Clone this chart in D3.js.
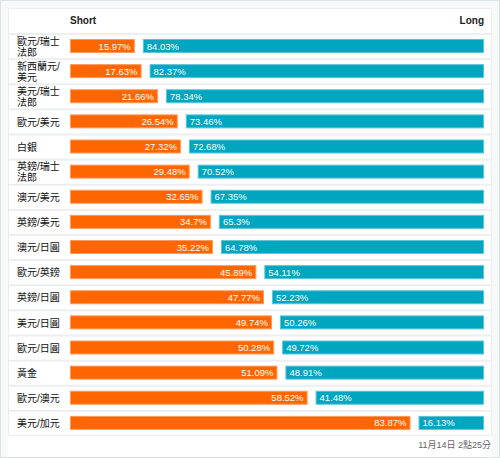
<!DOCTYPE html>
<html><head><meta charset="utf-8">
<script src="https://cdn.jsdelivr.net/npm/d3@7"></script>
<style>
html,body{margin:0;padding:0;background:#fff;}
svg{display:block;font-family:"Liberation Sans","Noto Sans CJK TC",sans-serif;}
</style></head>
<body><svg id="c" width="500" height="458"></svg>
<script>
const categories = ["歐元/瑞士法郎","新西蘭元/美元","美元/瑞士法郎","歐元/美元","白銀","英鎊/瑞士法郎","澳元/美元","英鎊/美元","澳元/日圓","歐元/英鎊","英鎊/日圓","美元/日圓","歐元/日圓","黃金","歐元/澳元","美元/加元"];
const shortValues = [15.97,17.63,21.66,26.54,27.32,29.48,32.65,34.7,35.22,45.89,47.77,49.74,50.28,51.09,58.52,83.87];
const longValues  = [84.03,82.37,78.34,73.46,72.68,70.52,67.35,65.3,64.78,54.11,52.23,50.26,49.72,48.91,41.48,16.13];
const headers = ["Short","Long"];
const timestamp = "11月14日 2點25分";

const svg = d3.select("#c");
const W = 500, H = 458;
const left = 70, gap = 8, barW = 406;
const rowTop = 33, rowBottom = 435;

// outer frame
svg.append("rect").attr("x",0.5).attr("y",0.5).attr("width",W-1).attr("height",H-1)
  .attr("fill","#fff").attr("stroke","#d9e3e6");
svg.append("rect").attr("x",1).attr("y",1).attr("width",7).attr("height",H-2).attr("fill","#f7f9f9");
svg.append("rect").attr("x",1).attr("y",1).attr("width",W-2).attr("height",7).attr("fill","#f7f9f9");
svg.append("rect").attr("x",492).attr("y",1).attr("width",7).attr("height",H-2).attr("fill","#f7f9f9");
// panel
svg.append("rect").attr("x",8.5).attr("y",8.5).attr("width",483).attr("height",rowBottom-8)
  .attr("fill","#fff").attr("stroke","#eaeeef");

const y = d3.scaleBand().domain(categories).range([rowTop, rowBottom]).padding(0);
const x = d3.scaleLinear().domain([0,100]).range([0, barW]);

// header
svg.append("text").attr("x",left).attr("y",23.5).attr("font-size",10).attr("font-weight","bold")
  .attr("fill","#222").text(headers[0]);
svg.append("text").attr("x",left+barW+gap).attr("y",23.5).attr("font-size",10).attr("font-weight","bold")
  .attr("text-anchor","end").attr("fill","#222").text(headers[1]);

const rows = svg.selectAll("g.row").data(categories).join("g").attr("class","row")
  .attr("transform", d => `translate(0,${y(d)})`);

rows.append("rect").attr("x",9).attr("y",0).attr("width",482).attr("height",2).attr("fill","#eceeef");

const bh = 14, by = 6;
rows.append("rect").attr("x",left+0.5).attr("y",by+0.5)
  .attr("width",(d,i)=>x(shortValues[i])-1).attr("height",bh-1)
  .attr("fill","#ff6600").attr("stroke","#ff9a5c").attr("stroke-width",1);
rows.append("rect").attr("x",(d,i)=>left+x(shortValues[i])+gap+0.5).attr("y",by+0.5)
  .attr("width",(d,i)=>x(longValues[i])-1).attr("height",bh-1)
  .attr("fill","#00a6bf").attr("stroke","#5cc6d6").attr("stroke-width",1);

rows.append("text").attr("x",(d,i)=>left+x(shortValues[i])-4).attr("y",by+bh/2+3.5)
  .attr("text-anchor","end").attr("font-size",9.5).attr("fill","#fff")
  .text((d,i)=>shortValues[i]+"%");
rows.append("text").attr("x",(d,i)=>left+x(shortValues[i])+gap+4).attr("y",by+bh/2+3.5)
  .attr("font-size",9.5).attr("fill","#fff")
  .text((d,i)=>longValues[i]+"%");

// category labels with wrapping
const fs = 10;
const lf = "'Liberation Sans','Noto Sans CJK TC',sans-serif";
rows.each(function(d){
  const g = d3.select(this);
  const chars = Array.from(d);
  const lines = [];
  let cur = "";
  const probe = g.append("text").attr("font-size",fs).attr("font-family",lf);
  for (const ch of chars) {
    probe.text(cur+ch);
    if (probe.node().getComputedTextLength() > 47 && cur) { lines.push(cur); cur = ch; }
    else cur += ch;
  }
  lines.push(cur);
  probe.remove();
  const cy = y.bandwidth()/2 + 1;
  const lh = 11;
  lines.forEach((ln,k)=>{
    g.append("text").attr("x",17).attr("font-size",fs)
      .attr("font-family",lf).attr("fill","#111")
      .attr("y", cy + (k-(lines.length-1)/2)*lh + 3.6)
      .text(ln);
  });
});

svg.append("text").attr("x",491).attr("y",448).attr("text-anchor","end")
  .attr("font-size",9).attr("fill","#666")
  .attr("font-family",lf).text(timestamp);
</script></body></html>
